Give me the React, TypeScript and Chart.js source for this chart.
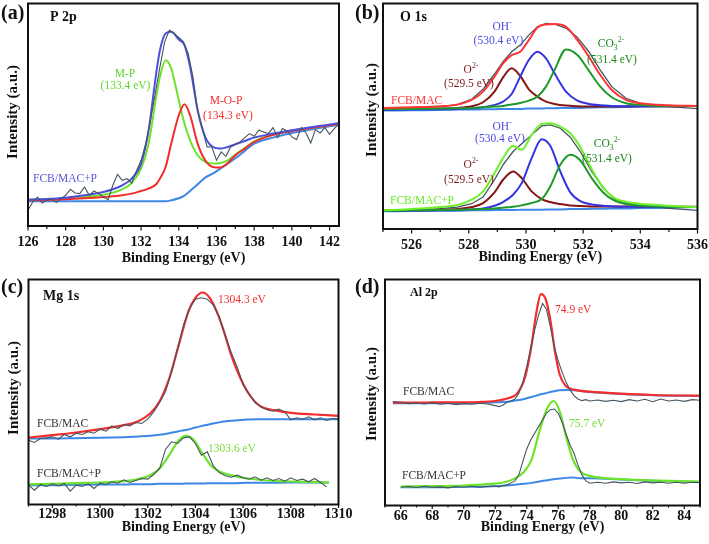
import React, { useEffect, useRef } from 'react';
import { Chart, registerables } from 'chart.js';

Chart.register(...registerables);

const FONT = '"Liberation Serif", "Times New Roman", Times, serif';
const W = 709;
const H = 544;

// ---------------- Panel (a) P 2p ----------------
const xA = [126, 127, 128, 129, 130, 130.5, 131, 131.5, 132, 132.4, 132.8, 133, 133.3, 133.6, 134, 134.3, 134.6, 135, 135.4, 135.8, 136.2, 136.6, 137, 137.5, 138, 139, 140, 141, 142, 142.5];
const aBackground = [97, 97, 97, 97, 97, 97, 97, 97, 97, 97, 97, 97, 97, 100, 106, 114, 128, 148, 168, 180, 195, 210, 226, 248, 270, 288, 302, 312, 322, 327];
const aMOP = [100, 101, 103, 106, 110, 112, 115, 120, 128, 135, 148, 165, 200, 270, 355, 388, 355, 270, 220, 200, 198, 212, 235, 255, 275, 296, 308, 317, 325, 330];
const aMP = [102, 103, 106, 110, 117, 123, 133, 152, 195, 270, 410, 470, 520, 495, 400, 330, 280, 235, 215, 210, 212, 220, 237, 257, 277, 297, 309, 317, 325, 330];
const aEnvelope = [102, 104, 108, 115, 125, 133, 145, 165, 210, 310, 480, 550, 600, 605, 582, 565, 500, 370, 290, 260, 255, 260, 268, 278, 288, 300, 310, 319, 327, 332];
const xARaw = [126, 126.25, 126.5, 126.75, 127, 127.25, 127.5, 127.75, 128, 128.25, 128.5, 128.75, 129, 129.25, 129.5, 129.75, 130, 130.25, 130.5, 130.75, 131, 131.25, 131.5, 131.75, 132, 132.25, 132.5, 132.75, 133, 133.25, 133.5, 133.75, 134, 134.25, 134.5, 134.75, 135, 135.25, 135.5, 135.75, 136, 136.25, 136.5, 136.75, 137, 137.25, 137.5, 137.75, 138, 138.25, 138.5, 138.75, 139, 139.25, 139.5, 139.75, 140, 140.25, 140.5, 140.75, 141, 141.25, 141.5, 141.75, 142, 142.25, 142.5];
const aRaw = [70, 95, 110, 92, 100, 105, 93, 105, 115, 133, 122, 120, 140, 115, 128, 120, 110, 102, 145, 178, 160, 165, 152, 188, 220, 270, 340, 420, 500, 575, 610, 600, 588, 575, 540, 470, 370, 315, 260, 260, 220, 245, 232, 260, 268, 275, 288, 300, 292, 310, 305, 300, 318, 288, 315, 308, 290, 282, 318, 302, 272, 312, 302, 318, 298, 315, 330];
const ticksA = [126, 127, 128, 129, 130, 131, 132, 133, 134, 135, 136, 137, 138, 139, 140, 141, 142];

// ---------------- Panel (b) O 1s ----------------
const xB1 = [525, 526, 527, 527.6, 528.1, 528.5, 528.9, 529.2, 529.5, 529.8, 530.1, 530.4, 530.7, 531, 531.4, 531.8, 532.2, 532.6, 533, 533.5, 534, 535, 536];
const bBackground1 = [368, 369, 370, 371, 371, 372, 372, 373, 373, 373, 374, 374, 375, 375, 376, 376, 377, 378, 378, 379, 380, 381, 382];
const bO2minus1 = [372, 373, 374, 376, 381, 393, 425, 468, 495, 472, 432, 410, 395, 388, 383, 381, 380, 380, 380, 380, 381, 381, 382];
const bOH1 = [370, 371, 372, 373, 375, 378, 385, 395, 418, 470, 520, 545, 525, 480, 425, 398, 388, 384, 382, 381, 381, 381, 382];
const bCO3_1 = [372, 373, 374, 375, 376, 378, 380, 382, 386, 391, 398, 410, 440, 490, 552, 535, 488, 440, 408, 390, 385, 382, 382];
const bEnvelope1 = [376, 378, 381, 386, 400, 425, 470, 510, 535, 545, 580, 618, 627, 628, 620, 580, 530, 475, 430, 400, 390, 384, 382];
const bRaw1 = [374, 376, 380, 386, 402, 432, 478, 515, 545, 565, 595, 620, 630, 628, 616, 588, 545, 490, 440, 405, 390, 380, 374];

const xB2 = [525, 526, 527, 527.6, 528.1, 528.5, 528.9, 529.2, 529.55, 529.85, 530.2, 530.55, 530.85, 531.2, 531.55, 531.9, 532.3, 532.7, 533.1, 533.5, 534, 535, 536];
const bBackground2 = [65, 66, 67, 67, 68, 68, 69, 69, 69, 70, 70, 70, 71, 71, 72, 72, 73, 73, 74, 74, 75, 76, 78];
const bO2minus2 = [68, 69, 70, 72, 78, 90, 122, 160, 185, 165, 125, 102, 93, 87, 83, 81, 80, 80, 80, 80, 79, 79, 79];
const bOH2 = [66, 67, 68, 69, 71, 74, 82, 93, 115, 150, 225, 282, 262, 185, 122, 96, 86, 82, 80, 79, 79, 78, 78];
const bCO3_2 = [67, 68, 69, 70, 71, 72, 74, 76, 79, 83, 90, 102, 140, 205, 235, 218, 165, 122, 97, 87, 82, 79, 78];
const bEnvelope2 = [68, 72, 78, 84, 100, 125, 180, 225, 262, 250, 295, 328, 330, 320, 300, 258, 192, 138, 105, 94, 88, 82, 78];
const bRaw2 = [66, 68, 73, 78, 88, 108, 160, 205, 245, 268, 295, 322, 325, 315, 288, 245, 185, 135, 102, 90, 82, 74, 68];
const ticksB = [525, 526, 527, 528, 529, 530, 531, 532, 533, 534, 535, 536];

// ---------------- Panel (c) Mg 1s ----------------
const xC1 = [1297, 1298, 1299, 1300, 1301, 1301.6, 1302.1, 1302.5, 1302.9, 1303.3, 1303.7, 1304, 1304.3, 1304.6, 1304.9, 1305.2, 1305.5, 1305.8, 1306.2, 1306.7, 1307.3, 1308, 1309, 1310];
const cFit1 = [213, 220, 228, 238, 250, 262, 285, 322, 390, 490, 590, 632, 648, 632, 590, 530, 460, 405, 348, 308, 295, 287, 282, 278];
const cBackground1 = [210, 210, 211, 212, 214, 216, 218, 221, 226, 232, 237, 243, 248, 253, 257, 261, 263, 265, 267, 268, 268, 268, 268, 268];
const xCRaw1 = [1297, 1297.25, 1297.5, 1297.75, 1298, 1298.25, 1298.5, 1298.75, 1299, 1299.25, 1299.5, 1299.75, 1300, 1300.25, 1300.5, 1300.75, 1301, 1301.25, 1301.5, 1301.75, 1302, 1302.25, 1302.5, 1302.75, 1303, 1303.25, 1303.5, 1303.75, 1304, 1304.25, 1304.5, 1304.75, 1305, 1305.25, 1305.5, 1305.75, 1306, 1306.25, 1306.5, 1306.75, 1307, 1307.25, 1307.5, 1307.75, 1308, 1308.25, 1308.5, 1308.75, 1309, 1309.25, 1309.5, 1309.75, 1310];
const cRaw1 = [205, 198, 210, 212, 215, 208, 222, 215, 226, 222, 230, 226, 238, 232, 248, 240, 252, 248, 258, 255, 268, 290, 318, 352, 410, 480, 550, 600, 628, 632, 628, 610, 575, 520, 468, 425, 372, 345, 318, 305, 296, 292, 298, 290, 266, 272, 268, 275, 266, 272, 264, 270, 268];

const xC2 = [1297, 1298, 1299, 1300, 1301, 1301.6, 1302.1, 1302.5, 1302.9, 1303.3, 1303.6, 1303.9, 1304.3, 1304.7, 1305.1, 1305.6, 1306.2, 1307, 1308, 1309, 1309.6];
const cFit2 = [73, 74, 76, 78, 82, 88, 100, 120, 160, 205, 218, 208, 165, 125, 108, 98, 90, 84, 81, 79, 78];
const cBackground2 = [70, 70, 71, 72, 72, 73, 73, 74, 74, 74, 75, 75, 75, 76, 76, 76, 77, 77, 78, 78, 78];
const xCRaw2 = [1297, 1297.25, 1297.5, 1297.75, 1298, 1298.25, 1298.5, 1298.75, 1299, 1299.25, 1299.5, 1299.75, 1300, 1300.25, 1300.5, 1300.75, 1301, 1301.25, 1301.5, 1301.75, 1302, 1302.25, 1302.5, 1302.75, 1303, 1303.25, 1303.5, 1303.75, 1304, 1304.25, 1304.5, 1304.75, 1305, 1305.25, 1305.5, 1305.75, 1306, 1306.25, 1306.5, 1306.75, 1307, 1307.25, 1307.5, 1307.75, 1308, 1308.25, 1308.5, 1308.75, 1309, 1309.25, 1309.5];
const cRaw2 = [70, 55, 72, 66, 74, 68, 75, 52, 70, 66, 74, 60, 76, 72, 80, 76, 86, 78, 84, 90, 88, 102, 120, 178, 200, 195, 212, 215, 195, 160, 170, 128, 108, 98, 94, 100, 92, 88, 95, 85, 92, 84, 90, 82, 92, 84, 88, 80, 90, 78, 65];
const ticksC = [1297, 1298, 1299, 1300, 1301, 1302, 1303, 1304, 1305, 1306, 1307, 1308, 1309, 1310];

// ---------------- Panel (d) Al 2p ----------------
const xD1 = [65.5, 67, 69, 71, 72, 72.8, 73.4, 73.9, 74.3, 74.6, 74.9, 75.2, 75.5, 75.8, 76.1, 76.5, 77, 78, 80, 82, 85];
const dFit1 = [317, 317, 318, 319, 322, 330, 345, 395, 488, 585, 643, 628, 565, 468, 400, 366, 356, 350, 344, 340, 338];
const dBackground1 = [315, 315, 315, 316, 318, 320, 324, 329, 334, 338, 342, 345, 349, 352, 354, 355, 354, 349, 343, 339, 337];
const xDRaw1 = [65.5, 66, 66.5, 67, 67.5, 68, 68.5, 69, 69.5, 70, 70.5, 71, 71.5, 72, 72.25, 72.5, 72.75, 73, 73.25, 73.5, 73.75, 74, 74.25, 74.5, 74.75, 75, 75.25, 75.5, 75.75, 76, 76.25, 76.5, 76.75, 77, 77.25, 77.5, 77.75, 78, 78.5, 79, 79.5, 80, 80.5, 81, 81.5, 82, 82.5, 83, 83.5, 84, 84.5, 85];
const dRaw1 = [320, 318, 314, 316, 313, 317, 312, 315, 311, 314, 312, 315, 313, 308, 305, 310, 318, 322, 328, 345, 378, 425, 480, 535, 580, 615, 598, 545, 485, 442, 408, 378, 355, 338, 328, 323, 326, 322, 325, 321, 324, 320, 326, 322, 327, 320, 328, 322, 325, 321, 326, 324];

const xD2 = [66, 68, 70, 71.5, 72.5, 73.2, 73.8, 74.3, 74.8, 75.3, 75.7, 76.1, 76.5, 76.9, 77.4, 78, 79, 81, 83, 85];
const dFit2 = [65, 66, 68, 72, 77, 88, 108, 145, 230, 300, 322, 290, 215, 150, 110, 97, 90, 85, 82, 80];
const dBackground2 = [63, 63, 64, 65, 67, 70, 73, 76, 80, 84, 87, 89, 91, 92, 90, 90, 88, 84, 81, 78];
const xDRaw2 = [66, 66.5, 67, 67.5, 68, 68.5, 69, 69.5, 70, 70.5, 71, 71.5, 72, 72.25, 72.5, 72.75, 73, 73.25, 73.5, 73.75, 74, 74.25, 74.5, 74.75, 75, 75.25, 75.5, 75.75, 76, 76.25, 76.5, 76.75, 77, 77.25, 77.5, 77.75, 78, 78.5, 79, 79.5, 80, 80.5, 81, 81.5, 82, 82.5, 83, 83.5, 84, 84.5, 85];
const dRaw2 = [63, 65, 62, 66, 63, 64, 61, 65, 63, 66, 63, 65, 66, 64, 68, 70, 76, 82, 100, 140, 178, 205, 225, 245, 265, 285, 296, 298, 285, 258, 222, 190, 165, 130, 100, 82, 75, 78, 75, 79, 76, 78, 74, 79, 76, 78, 75, 78, 75, 78, 77];
const ticksD = [65, 66, 67, 68, 69, 70, 71, 72, 73, 74, 75, 76, 77, 78, 79, 80, 81, 82, 83, 84, 85];

// ---------------- colours ----------------
const RAW = '#46555f';
const RED = '#f52c2c';
const LIME = '#6ce42c';
const BASEBLUE = '#3d88e6';
const ENVBLUE = '#4e4ee0';
const BROWN = '#861616';
const OHBLUE = '#3535e0';
const DKGREEN = '#1f9a2a';

type Series = { xs: number[]; ys: number[]; color: string; width: number; raw?: boolean };
type Note = { parts: [string, string][]; x: number; y: number; color?: string; size: number; bold?: boolean; align?: 'left' | 'center'; rotate?: boolean };
type Panel = {
  xMin: number; xMax: number; yMin: number; yMax: number; ticks: number[];
  area: { l: number; t: number; r: number; b: number };
  xh: number; tickPad: number; tickLen: number;
  series: Series[]; notes: Note[];
};

const t = (s: string): [string, string][] => [[s, '']];
const yTitle = (x: number, y: number): Note => ({ parts: t('Intensity (a.u.)'), x, y, size: 15, bold: true, align: 'center', rotate: true, color: '#111' });

const panels: Panel[] = [
  {
    xMin: 126, xMax: 142.5, yMin: 23, yMax: 690, ticks: ticksA,
    area: { l: 28, t: 3.5, r: 339, b: 226 }, xh: 41, tickPad: -0.4, tickLen: 4,
    series: [
      { xs: xARaw, ys: aRaw, color: RAW, width: 1.1, raw: true },
      { xs: xA, ys: aEnvelope, color: ENVBLUE, width: 2 },
      { xs: xA, ys: aMOP, color: RED, width: 2 },
      { xs: xA, ys: aMP, color: LIME, width: 2 },
      { xs: xA, ys: aBackground, color: BASEBLUE, width: 2 },
    ],
    notes: [
      { parts: t('(a)'), x: 1, y: 19, size: 20, bold: true, color: '#111' },
      { parts: t('P 2p'), x: 50, y: 21, size: 14, bold: true, color: '#111' },
      { parts: t('M-P'), x: 125, y: 77, size: 11.5, align: 'center', color: '#5fd62a' },
      { parts: t('(133.4 eV)'), x: 125.5, y: 89, size: 11.5, align: 'center', color: '#5fd62a' },
      { parts: t('M-O-P'), x: 226, y: 104, size: 11.5, align: 'center', color: RED },
      { parts: t('(134.3 eV)'), x: 228, y: 119, size: 11.5, align: 'center', color: RED },
      { parts: t('FCB/MAC+P'), x: 33, y: 182, size: 11.5, color: '#5858d8' },
      yTitle(13, 112),
    ],
  },
  {
    xMin: 525, xMax: 536, yMin: 12, yMax: 690, ticks: ticksB,
    area: { l: 383, t: 3.5, r: 697.5, b: 229 }, xh: 37, tickPad: -0.4, tickLen: 4,
    series: [
      { xs: xB1, ys: bEnvelope1, color: '#ff3434', width: 2 },
      { xs: xB2, ys: bEnvelope2, color: '#6ef02a', width: 2 },
      { xs: xB1, ys: bCO3_1, color: DKGREEN, width: 2 },
      { xs: xB2, ys: bCO3_2, color: DKGREEN, width: 2 },
      { xs: xB1, ys: bOH1, color: OHBLUE, width: 2 },
      { xs: xB2, ys: bOH2, color: OHBLUE, width: 2 },
      { xs: xB1, ys: bO2minus1, color: BROWN, width: 2 },
      { xs: xB2, ys: bO2minus2, color: BROWN, width: 2 },
      { xs: xB1, ys: bRaw1, color: RAW, width: 1.3, raw: true },
      { xs: xB2, ys: bRaw2, color: RAW, width: 1.3, raw: true },
      { xs: xB1, ys: bBackground1, color: BASEBLUE, width: 2 },
      { xs: xB2, ys: bBackground2, color: BASEBLUE, width: 2 },
    ],
    notes: [
      { parts: t('(b)'), x: 355, y: 19, size: 20, bold: true, color: '#111' },
      { parts: t('O 1s'), x: 400, y: 21, size: 14, bold: true, color: '#111' },
      { parts: [['OH', ''], ['-', 'sup']], x: 502, y: 30, size: 11.5, align: 'center', color: '#4a4ae6' },
      { parts: t('(530.4 eV)'), x: 498.5, y: 44, size: 11.5, align: 'center', color: '#4a4ae6' },
      { parts: [['O', ''], ['2-', 'sup']], x: 471, y: 73, size: 11.5, align: 'center', color: '#7a1a1a' },
      { parts: t('(529.5 eV)'), x: 469, y: 87, size: 11.5, align: 'center', color: '#7a1a1a' },
      { parts: [['CO', ''], ['3', 'sub'], ['2-', 'sup']], x: 611, y: 47, size: 11.5, align: 'center', color: '#1a8a1a' },
      { parts: t('(531.4 eV)'), x: 612, y: 63, size: 11.5, align: 'center', color: '#1a8a1a' },
      { parts: t('FCB/MAC'), x: 391, y: 104, size: 11.5, color: '#ff3434' },
      { parts: [['OH', ''], ['-', 'sup']], x: 502, y: 130, size: 11.5, align: 'center', color: '#4a4ae6' },
      { parts: t('(530.4 eV)'), x: 500, y: 142, size: 11.5, align: 'center', color: '#4a4ae6' },
      { parts: [['O', ''], ['2-', 'sup']], x: 471, y: 168, size: 11.5, align: 'center', color: '#7a1a1a' },
      { parts: t('(529.5 eV)'), x: 469, y: 183, size: 11.5, align: 'center', color: '#7a1a1a' },
      { parts: [['CO', ''], ['3', 'sub'], ['2-', 'sup']], x: 607, y: 147, size: 11.5, align: 'center', color: '#1a8a1a' },
      { parts: t('(531.4 eV)'), x: 607, y: 162, size: 11.5, align: 'center', color: '#1a8a1a' },
      { parts: t('FCB/MAC+P'), x: 390, y: 204, size: 11.5, color: '#66ee22' },
      yTitle(372.5, 110),
    ],
  },
  {
    xMin: 1297, xMax: 1310, yMin: 12, yMax: 687, ticks: ticksC,
    area: { l: 28.5, t: 279.5, r: 338.5, b: 504.5 }, xh: 31, tickPad: -6.4, tickLen: 3,
    series: [
      { xs: xCRaw1, ys: cRaw1, color: RAW, width: 1.1, raw: true },
      { xs: xCRaw2, ys: cRaw2, color: RAW, width: 1.1, raw: true },
      { xs: xC1, ys: cFit1, color: RED, width: 2.2 },
      { xs: xC2, ys: cFit2, color: LIME, width: 2.2 },
      { xs: xC1, ys: cBackground1, color: BASEBLUE, width: 2 },
      { xs: xC2, ys: cBackground2, color: BASEBLUE, width: 2 },
    ],
    notes: [
      { parts: t('(c)'), x: 1, y: 293, size: 20, bold: true, color: '#111' },
      { parts: t('Mg 1s'), x: 43, y: 300, size: 14, bold: true, color: '#111' },
      { parts: t('1304.3 eV'), x: 218, y: 303, size: 11.5, color: RED },
      { parts: t('FCB/MAC'), x: 37, y: 427, size: 11.5, color: '#333' },
      { parts: t('1303.6 eV'), x: 208, y: 452, size: 11.5, color: '#77dd33' },
      { parts: t('FCB/MAC+P'), x: 37, y: 477, size: 11.5, color: '#333' },
      yTitle(14, 388),
    ],
  },
  {
    xMin: 65, xMax: 85, yMin: 8, yMax: 687, ticks: ticksD,
    area: { l: 385, t: 279.5, r: 700, b: 505.5 }, xh: 30, tickPad: -5.9, tickLen: 3,
    series: [
      { xs: xDRaw1, ys: dRaw1, color: RAW, width: 1.1, raw: true },
      { xs: xDRaw2, ys: dRaw2, color: RAW, width: 1.1, raw: true },
      { xs: xD1, ys: dFit1, color: RED, width: 2.2 },
      { xs: xD2, ys: dFit2, color: LIME, width: 2.2 },
      { xs: xD1, ys: dBackground1, color: BASEBLUE, width: 2 },
      { xs: xD2, ys: dBackground2, color: BASEBLUE, width: 2 },
    ],
    notes: [
      { parts: t('(d)'), x: 355, y: 293, size: 20, bold: true, color: '#111' },
      { parts: t('Al 2p'), x: 410, y: 296, size: 12, bold: true, color: '#111' },
      { parts: t('74.9 eV'), x: 555, y: 313, size: 11.5, color: RED },
      { parts: t('FCB/MAC'), x: 403, y: 395, size: 11.5, color: '#333' },
      { parts: t('75.7 eV'), x: 569, y: 427, size: 11.5, color: '#77dd33' },
      { parts: t('FCB/MAC+P'), x: 402, y: 479, size: 11.5, color: '#333' },
      yTitle(372.5, 394),
    ],
  },
];

function drawNote(ctx: CanvasRenderingContext2D, n: Note) {
  const weight = n.bold ? 'bold ' : '';
  const segs = n.parts.map(([txt, mode]) => ({ txt, mode, size: mode ? n.size * 0.68 : n.size, w: 0 }));
  let total = 0;
  segs.forEach((s) => {
    ctx.font = `${weight}${s.size}px ${FONT}`;
    s.w = ctx.measureText(s.txt).width;
    total += s.w;
  });
  ctx.save();
  ctx.fillStyle = n.color || '#111';
  if (n.rotate) {
    ctx.translate(n.x, n.y);
    ctx.rotate(-Math.PI / 2);
    ctx.textAlign = 'center';
    ctx.textBaseline = 'middle';
    ctx.font = `${weight}${n.size}px ${FONT}`;
    ctx.fillText(segs.map((s) => s.txt).join(''), 0, 0);
    ctx.restore();
    return;
  }
  ctx.textAlign = 'left';
  ctx.textBaseline = 'alphabetic';
  let x = n.align === 'center' ? n.x - total / 2 : n.x;
  segs.forEach((s) => {
    ctx.font = `${weight}${s.size}px ${FONT}`;
    const dy = s.mode === 'sup' ? -n.size * 0.42 : s.mode === 'sub' ? n.size * 0.24 : 0;
    ctx.fillText(s.txt, x, n.y + dy);
    x += s.w;
  });
  ctx.restore();
}

function makePlugin(p: Panel) {
  return {
    id: 'frameAndNotes',
    afterDraw(chart: any) {
      const { ctx, chartArea: a } = chart;
      const xs = chart.scales.x;
      ctx.save();
      ctx.strokeStyle = '#111';
      ctx.lineWidth = 1.2;
      xs.ticks.forEach((tk: any) => {
        const v = tk.value;
        const px = xs.getPixelForValue(v);
        const len = Math.round(v) % 2 === 0 ? p.tickLen + 0.5 : p.tickLen - 1;
        ctx.beginPath();
        ctx.moveTo(px, a.bottom);
        ctx.lineTo(px, a.bottom + len);
        ctx.stroke();
      });
      ctx.lineWidth = 2;
      ctx.strokeRect(a.left, a.top, a.right - a.left, a.bottom - a.top);
      ctx.restore();
      p.notes.forEach((n) => drawNote(ctx, n));
    },
  };
}

function makeConfig(p: Panel): any {
  return {
    type: 'line',
    data: {
      datasets: p.series.map((s, i) => ({
        data: s.xs.map((x, j) => ({ x, y: s.ys[j] })),
        borderColor: s.color,
        backgroundColor: s.color,
        borderWidth: s.width,
        pointRadius: 0,
        fill: false,
        order: i,
        tension: s.raw ? 0 : 0.4,
        cubicInterpolationMode: s.raw ? 'default' : 'monotone',
      })),
    },
    options: {
      responsive: false,
      animation: false,
      events: [],
      layout: {
        padding: {
          left: p.area.l,
          top: p.area.t,
          right: W - p.area.r,
          bottom: H - p.area.b - p.xh,
        },
      },
      plugins: { legend: { display: false }, tooltip: { enabled: false } },
      scales: {
        x: {
          type: 'linear',
          min: p.xMin,
          max: p.xMax,
          afterBuildTicks: (s: any) => { s.ticks = p.ticks.map((v) => ({ value: v })); },
          afterFit: (s: any) => { s.height = p.xh; },
          grid: { display: false },
          border: { display: false },
          ticks: {
            autoSkip: false,
            maxRotation: 0,
            minRotation: 0,
            padding: p.tickPad,
            color: '#111',
            font: { family: FONT, size: 14, weight: 'bold' },
            callback: (v: any) => (Math.abs(Number(v) % 2) < 1e-6 ? String(v) : ''),
          },
          title: {
            display: true,
            text: 'Binding Energy (eV)',
            color: '#111',
            padding: 0,
            font: { family: FONT, size: 14, weight: 'bold' },
          },
        },
        y: { display: false, min: p.yMin, max: p.yMax },
      },
    },
    plugins: [makePlugin(p)],
  };
}

function PanelCanvas({ panel }: { panel: Panel }) {
  const ref = useRef<HTMLCanvasElement | null>(null);
  useEffect(() => {
    if (!ref.current) return;
    const chart = new Chart(ref.current, makeConfig(panel));
    return () => chart.destroy();
  }, [panel]);
  return (
    <canvas
      ref={ref}
      width={W}
      height={H}
      style={{ position: 'absolute', left: 0, top: 0, width: W, height: H }}
    />
  );
}

export default function App() {
  return (
    <div style={{ position: 'fixed', left: 0, top: 0, width: W, height: H, background: '#fff', overflow: 'hidden' }}>
      {panels.map((p, i) => (
        <PanelCanvas key={i} panel={p} />
      ))}
    </div>
  );
}
